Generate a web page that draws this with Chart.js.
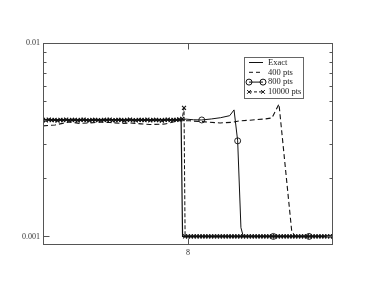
<!DOCTYPE html>
<html>
<head>
<meta charset="utf-8">
<script src="https://cdn.jsdelivr.net/npm/chart.js@4/dist/chart.umd.min.js"></script>
<style>
html,body{margin:0;padding:0;background:#fff;}
canvas{display:block;}
</style>
</head>
<body>
<canvas id="c" width="374" height="289"></canvas>
<script>
// ---- tick values ----
const xTickValues = [8];
const yTickValues = [0.001, 0.01];
const yMinorTickValues = [0.002, 0.003, 0.004, 0.005, 0.006, 0.007, 0.008, 0.009];

// ---- series ----
const seriesLabels = ["Exact", "400 pts", "800 pts", "10000 pts"];

const exactX = [0, 7.62, 7.70, 16];
const exactY = [0.004, 0.004, 0.001, 0.001];

const pts400X = [0, 0.66, 1.49, 2.0, 2.59, 3.2, 3.70, 4.3, 4.80, 5.4, 5.90, 6.73, 7.45, 8.11, 8.94, 9.77, 10.43, 10.87, 11.42, 12.25, 12.63, 13.02, 13.72, 13.9, 16];
const pts400Y = [0.00373, 0.00377, 0.00391, 0.00384, 0.00386, 0.00390, 0.00388, 0.00384, 0.00386, 0.00382, 0.00379, 0.00381, 0.00396, 0.00396, 0.00391, 0.00386, 0.00389, 0.00396, 0.00399, 0.00405, 0.00410, 0.00483, 0.00107, 0.001, 0.001];

const pts800X = [0, 0.88, 1.8, 2.85, 3.8, 4.82, 5.8, 6.79, 7.3, 7.62, 7.9, 8.3, 8.76, 9.3, 9.8, 10.3, 10.54, 10.74, 10.92, 11.05, 12.71, 14.68, 16];
const pts800Y = [0.00400, 0.00401, 0.00399, 0.00400, 0.00402, 0.00400, 0.00399, 0.00401, 0.00400, 0.00402, 0.00404, 0.00401, 0.00400, 0.00405, 0.00411, 0.00421, 0.00451, 0.00312, 0.00111, 0.001, 0.001, 0.001, 0.001];
const pts800MarkerX = [8.76, 10.74, 12.71, 14.68];

const pts10000X = [0,0.16,0.32,0.48,0.64,0.8,0.96,1.12,1.28,1.44,1.6,1.76,1.92,2.08,2.24,2.4,2.56,2.72,2.88,3.04,3.2,3.36,3.52,3.68,3.84,4,4.16,4.32,4.48,4.64,4.8,4.96,5.12,5.28,5.44,5.6,5.76,5.92,6.08,6.24,6.4,6.56,6.72,6.88,7.04,7.2,7.36,7.52,7.68,
 7.78,7.84,
 8,8.16,8.32,8.48,8.64,8.8,8.96,9.12,9.28,9.44,9.6,9.76,9.92,10.08,10.24,10.4,10.56,10.72,10.88,11.04,11.2,11.36,11.52,11.68,11.84,12,12.16,12.32,12.48,12.64,12.8,12.96,13.12,13.28,13.44,13.6,13.76,13.92,14.08,14.24,14.4,14.56,14.72,14.88,15.04,15.2,15.36,15.52,15.68,15.84,16];
const pts10000Y = [0.00401,0.00398,0.00402,0.00399,0.00400,0.00397,0.00401,0.00399,0.00402,0.00398,
 0.00400,0.00401,0.00398,0.00400,0.00402,0.00399,0.00397,0.00400,0.00401,0.00399,
 0.00398,0.00401,0.00400,0.00402,0.00398,0.00399,0.00401,0.00400,0.00397,0.00400,
 0.00402,0.00399,0.00398,0.00401,0.00400,0.00399,0.00402,0.00398,0.00400,0.00401,
 0.00399,0.00397,0.00400,0.00402,0.00399,0.00401,0.00400,0.00403,0.00405,
 0.00462,0.001,
 0.001,0.001,0.001,0.001,0.001,0.001,0.001,0.001,0.001,0.001,
 0.001,0.001,0.001,0.001,0.001,0.001,0.001,0.001,0.001,0.001,
 0.001,0.001,0.001,0.001,0.001,0.001,0.001,0.001,0.001,0.001,
 0.001,0.001,0.001,0.001,0.001,0.001,0.001,0.001,0.001,0.001,
 0.001,0.001,0.001,0.001,0.001,0.001,0.001,0.001,0.001,0.001,0.001];

const zip = (xs, ys) => xs.map((x, i) => ({x: x, y: ys[i]}));
const FONT = '"Liberation Serif", "DejaVu Serif", serif';
const INK = '#111';

const datasets = [
  {label: seriesLabels[0], data: zip(exactX, exactY), borderColor: INK, borderWidth: 1.2, pointRadius: 0, _sym: 'solid'},
  {label: seriesLabels[1], data: zip(pts400X, pts400Y), borderColor: INK, borderWidth: 1.1, borderDash: [5, 3], pointRadius: 0, _sym: 'dash'},
  {label: seriesLabels[2], data: zip(pts800X, pts800Y), borderColor: INK, borderWidth: 1, pointStyle: 'circle',
    pointRadius: ctx => (ctx.raw && pts800MarkerX.includes(ctx.raw.x)) ? 3 : 0,
    pointBorderColor: INK, pointBackgroundColor: 'rgba(0,0,0,0)', pointBorderWidth: 0.9, _sym: 'circle'},
  {label: seriesLabels[3], data: zip(pts10000X, pts10000Y), borderColor: INK, borderWidth: 1, borderDash: [4, 2],
    pointStyle: 'crossRot', pointRadius: 2.8, pointBorderColor: INK, pointBorderWidth: 1.1, _sym: 'cross'}
];

const framePlugin = {
  id: 'frame',
  beforeDraw(chart) {
    const c = chart.ctx;
    c.save(); c.fillStyle = '#fff'; c.fillRect(0, 0, chart.width, chart.height); c.restore();
  },
  afterDraw(chart) {
    const c = chart.ctx, a = chart.chartArea, xs = chart.scales.x, ys = chart.scales.y;
    const L = Math.round(a.left) + 0.5, R = Math.round(a.right) - 0.5, T = Math.round(a.top) + 0.5, B = Math.round(a.bottom) - 0.5;
    c.save();
    c.strokeStyle = '#555'; c.lineWidth = 1;
    c.strokeRect(L, T, R - L, B - T);
    c.beginPath();
    yTickValues.forEach(v => { const p = Math.round(ys.getPixelForValue(v)) + 0.5; c.moveTo(L, p); c.lineTo(L + 6, p); c.moveTo(R, p); c.lineTo(R - 6, p); });
    yMinorTickValues.forEach(v => { const p = Math.round(ys.getPixelForValue(v)) + 0.5; c.moveTo(L, p); c.lineTo(L + 3, p); c.moveTo(R, p); c.lineTo(R - 3, p); });
    xTickValues.forEach(v => { const p = Math.round(xs.getPixelForValue(v)) + 0.5; c.moveTo(p, B); c.lineTo(p, B - 6); c.moveTo(p, T); c.lineTo(p, T + 6); });
    c.stroke();

    // legend
    const bx = 244.5, by = 57.5, bw = 59, bh = 41;
    c.fillStyle = '#fff'; c.fillRect(bx, by, bw, bh);
    c.strokeStyle = '#666'; c.strokeRect(bx, by, bw, bh);
    c.font = '8.5px ' + FONT; c.textBaseline = 'middle'; c.textAlign = 'left';
    chart.data.datasets.forEach((ds, i) => {
      const yy = 62.5 + i * 9.8, x1 = 249, x2 = 263;
      c.strokeStyle = INK; c.lineWidth = 1;
      c.setLineDash(ds._sym === 'dash' ? [4, 3] : (ds._sym === 'cross' ? [3, 2] : []));
      c.beginPath(); c.moveTo(x1, yy); c.lineTo(x2, yy); c.stroke();
      c.setLineDash([]);
      if (ds._sym === 'circle') {
        [x1, x2].forEach(px => { c.beginPath(); c.arc(px, yy, 3, 0, Math.PI * 2); c.stroke(); });
      } else if (ds._sym === 'cross') {
        [x1, x2].forEach(px => { const r = 1.9; c.beginPath(); c.moveTo(px - r, yy - r); c.lineTo(px + r, yy + r); c.moveTo(px - r, yy + r); c.lineTo(px + r, yy - r); c.stroke(); });
      }
      c.fillStyle = '#222';
      c.fillText(ds.label, 268, yy);
    });
    c.restore();
  }
};

new Chart(document.getElementById('c'), {
  type: 'line',
  data: {datasets: datasets},
  plugins: [framePlugin],
  options: {
    responsive: false,
    animation: false,
    devicePixelRatio: 1,
    layout: {padding: {left: 0, right: 41, top: 43, bottom: 0}},
    elements: {line: {tension: 0}},
    plugins: {legend: {display: false}, tooltip: {enabled: false}},
    scales: {
      x: {
        type: 'linear', min: 0, max: 16, position: 'bottom',
        afterBuildTicks: s => { s.ticks = xTickValues.map(v => ({value: v})); },
        afterFit: s => { s.height = 44; },
        grid: {display: false, drawTicks: false},
        border: {display: false},
        ticks: {font: {family: FONT, size: 8}, color: '#333', padding: 3, maxRotation: 0,
          callback: v => String(v)}
      },
      y: {
        type: 'logarithmic', min: 0.000903, max: 0.01,
        afterBuildTicks: s => { s.ticks = yTickValues.map(v => ({value: v})); },
        afterFit: s => { s.width = 43; },
        grid: {display: false, drawTicks: false},
        border: {display: false},
        ticks: {font: {family: FONT, size: 8}, color: '#333', padding: 3,
          callback: v => String(v)}
      }
    }
  }
});
</script>
</body>
</html>
